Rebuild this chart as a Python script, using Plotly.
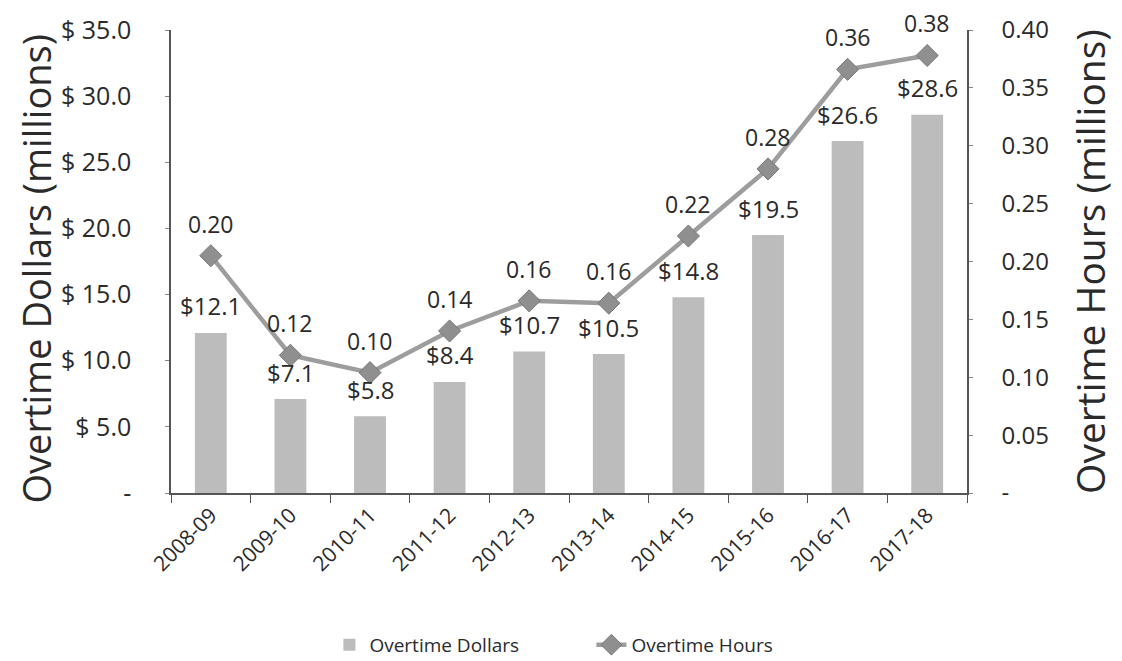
import plotly.graph_objects as go

categories = ["2008-09", "2009-10", "2010-11", "2011-12", "2012-13",
              "2013-14", "2014-15", "2015-16", "2016-17", "2017-18"]
dollars = [12.1, 7.1, 5.8, 8.4, 10.7, 10.5, 14.8, 19.5, 26.6, 28.6]
dollar_labels = ["$12.1", "$7.1", "$5.8", "$8.4", "$10.7", "$10.5", "$14.8", "$19.5", "$26.6", "$28.6"]
hours = [0.205, 0.119, 0.104, 0.140, 0.166, 0.164, 0.222, 0.280, 0.366, 0.378]
hour_labels = ["0.20", "0.12", "0.10", "0.14", "0.16", "0.16", "0.22", "0.28", "0.36", "0.38"]
left_tickvals = [0, 5, 10, 15, 20, 25, 30, 35]
left_ticktext = ["-", "$ 5.0", "$ 10.0", "$ 15.0", "$ 20.0", "$ 25.0", "$ 30.0", "$ 35.0"]
right_tickvals = [0, 0.05, 0.10, 0.15, 0.20, 0.25, 0.30, 0.35, 0.40]
right_ticktext = ["-", "0.05", "0.10", "0.15", "0.20", "0.25", "0.30", "0.35", "0.40"]
left_title = "Overtime Dollars (millions)"
right_title = "Overtime Hours (millions)"

FONT = "Open Sans, Noto Sans, sans-serif"
TXT = "#2a2a2a"

fig = go.Figure()
fig.add_trace(go.Bar(
    x=categories, y=dollars, name="Overtime Dollars",
    marker=dict(color="#bcbcbc", line=dict(width=0)),
    width=0.4, yaxis="y",
))
fig.add_trace(go.Scatter(
    x=categories, y=hours, name="Overtime Hours", yaxis="y2",
    mode="lines+markers",
    line=dict(color="#9d9d9d", width=4.5),
    marker=dict(symbol="diamond", size=17, color="#8f8f8f",
                line=dict(color="#787878", width=1)),
))

annotations = []
for c, v, t in zip(categories, dollars, dollar_labels):
    annotations.append(dict(x=c, y=v, xref="x", yref="y", text=t, showarrow=False,
                            yshift=27, font=dict(size=24, color=TXT, family=FONT)))
for c, v, t in zip(categories, hours, hour_labels):
    annotations.append(dict(x=c, y=v, xref="x", yref="y2", text=t, showarrow=False,
                            yshift=32, font=dict(size=23, color=TXT, family=FONT)))
annotations.append(dict(x=0, y=0.5, xref="paper", yref="paper", text=left_title,
                        showarrow=False, textangle=-90, xanchor="center", yanchor="middle",
                        xshift=-136, yshift=-8,
                        font=dict(size=38, color=TXT, family=FONT)))

fig.update_layout(
    width=1114, height=653,
    margin=dict(l=163, r=155, t=22, b=168, autoexpand=False),
    paper_bgcolor="white", plot_bgcolor="white",
    font=dict(family=FONT, color=TXT),
    bargap=0.6,
    showlegend=True,
    legend=dict(orientation="h", x=0.199, xanchor="left", y=-0.328, yanchor="middle",
                font=dict(size=19, color=TXT, family=FONT), entrywidth=217),
    xaxis=dict(
        type="category", showgrid=False, showline=True, linecolor="#555", linewidth=1.5,
        ticks="outside", ticklen=8, tickcolor="#555", tickson="boundaries",
        tickangle=-45, tickfont=dict(size=21, color=TXT, family=FONT),
        range=[-0.5, 9.5], automargin=False,
    ),
    yaxis=dict(
        range=[0, 35], tickvals=left_tickvals, ticktext=left_ticktext,
        showgrid=False, zeroline=False, showline=True, linecolor="#555", linewidth=1.5,
        ticks="outside", ticklen=4, tickcolor="#888", ticklabelstandoff=29,
        tickfont=dict(size=25, color=TXT, family=FONT), automargin=False,
    ),
    yaxis2=dict(
        range=[0, 0.40], tickvals=right_tickvals, ticktext=right_ticktext,
        overlaying="y", side="right",
        showgrid=False, zeroline=False, showline=True, linecolor="#555", linewidth=1.5,
        ticks="outside", ticklen=4, tickcolor="#888", ticklabelstandoff=24,
        tickfont=dict(size=24, color=TXT, family=FONT), automargin=False,
        title=dict(text=right_title, font=dict(size=39, color=TXT, family=FONT),
                   standoff=30),
    ),
    annotations=annotations,
)

fig.write_html("out.html")
